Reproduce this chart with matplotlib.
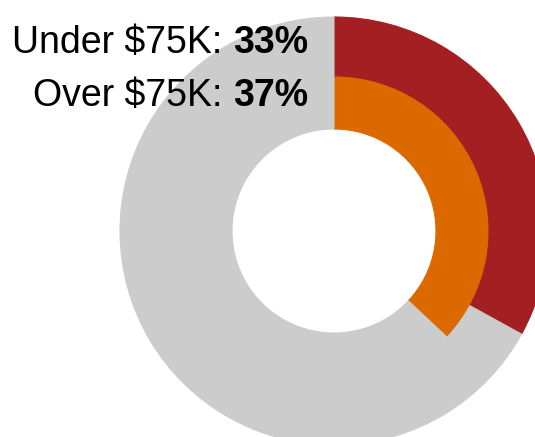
import matplotlib
matplotlib.use("Agg")
import matplotlib.pyplot as plt

# ---- data ----
labels = ["Under $75K", "Over $75K"]
shares = [33, 37]          # percent
ring_colors = ["#a31f22", "#db6900"]
REST = "#cccccc"

W, H = 535, 437
fig = plt.figure(figsize=(W / 100, H / 100), dpi=100)
ax = fig.add_axes([0, 0, 1, 1])

cx, cy = 334, H - 231
radii = [214, 154]
widths = [60, 52]
for val, col, r, w in zip(shares, ring_colors, radii, widths):
    wedges, _ = ax.pie([val, 100 - val], colors=[col, REST], radius=r,
                       center=(cx, cy), startangle=90, counterclock=False,
                       frame=True, wedgeprops=dict(width=w))
    # edge in the face colour hides the hairline seam between rings
    for wd in wedges:
        wd.set_edgecolor(wd.get_facecolor())
        wd.set_linewidth(0.8)
ax.set_xlim(0, W); ax.set_ylim(0, H)
ax.set_aspect("equal")
ax.axis("off")

# ---- labels: regular name + bold value, right aligned ----
fig.canvas.draw()
rend = fig.canvas.get_renderer()
x_right = 308
baselines = [H - 53, H - 106]
fs = 27
for lab, val, yb in zip(labels, shares, baselines):
    tb = ax.text(x_right, yb, f"{val}%", ha="right", va="baseline",
                 fontsize=fs, fontweight="bold", family="Liberation Sans", zorder=5)
    bw = tb.get_window_extent(rend).width
    ax.text(x_right - bw, yb, f"{lab}: ", ha="right", va="baseline",
            fontsize=fs, family="Liberation Sans", zorder=5)

fig.savefig("out.png", dpi=100)
